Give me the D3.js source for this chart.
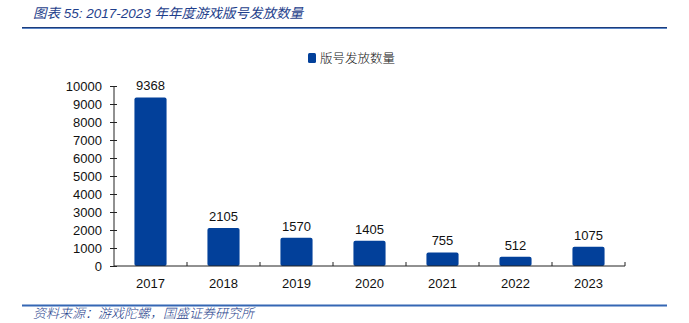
<!DOCTYPE html>
<html>
<head>
<meta charset="utf-8">
<script src="https://cdn.jsdelivr.net/npm/d3@7"></script>
<style>
  html, body { margin: 0; padding: 0; background: #fff; }
  svg { display: block; }
</style>
</head>
<body>
<svg id="chart" width="689" height="323"></svg>
<script>
// Annual count of approved game licences, 2017-2023
const years = ["2017", "2018", "2019", "2020", "2021", "2022", "2023"];
const licences = [9368, 2105, 1570, 1405, 755, 512, 1075];
const yTicks = [0, 1000, 2000, 3000, 4000, 5000, 6000, 7000, 8000, 9000, 10000];
const seriesName = "版号发放数量";
const titleText = "图表 55:  2017-2023 年年度游戏版号发放数量";
const sourceText = "资料来源：游戏陀螺，国盛证券研究所";

const svg = d3.select("#chart");
const barColor = "#02409A";
const textFont = "'Liberation Sans', Arial, 'Noto Sans CJK SC', sans-serif";

// Header and footer
svg.append("text")
  .attr("x", 33).attr("y", 18)
  .attr("fill", "#1F3F8C")
  .style("font-family", textFont)
  .style("font-size", "13.5px")
  .style("font-style", "italic")
  .style("font-weight", "400")
  .text(titleText);

svg.append("line")
  .attr("x1", 22).attr("x2", 667).attr("y1", 27.5).attr("y2", 27.5)
  .attr("stroke", "#1D3C7A").attr("stroke-width", 1);
svg.append("line")
  .attr("x1", 22).attr("x2", 667).attr("y1", 28.5).attr("y2", 28.5)
  .attr("stroke", "#5A86C8").attr("stroke-width", 1);

svg.append("line")
  .attr("x1", 22).attr("x2", 667).attr("y1", 305.5).attr("y2", 305.5)
  .attr("stroke", "#3567B4").attr("stroke-width", 2);

svg.append("text")
  .attr("x", 33).attr("y", 318)
  .attr("fill", "#1F3F8C")
  .style("font-family", textFont)
  .style("font-size", "13px")
  .style("font-style", "italic")
  .style("font-weight", "300")
  .text(sourceText);

// Plot area
const x = d3.scaleBand().domain(years).range([114, 625]).paddingInner(0.56).paddingOuter(0.28);
const y = d3.scaleLinear().domain([0, 10000]).range([266, 86]);

// Bars
svg.append("g").selectAll("rect")
  .data(licences)
  .join("rect")
  .attr("x", (d, i) => x(years[i]))
  .attr("y", d => y(d))
  .attr("width", x.bandwidth())
  .attr("height", d => y(0) - y(d))
  .attr("rx", 2)
  .attr("fill", barColor);

// Value labels
svg.append("g").selectAll("text")
  .data(licences)
  .join("text")
  .attr("x", (d, i) => x(years[i]) + x.bandwidth() / 2)
  .attr("y", d => y(d) - 7)
  .attr("text-anchor", "middle")
  .attr("fill", "#111")
  .style("font-family", textFont)
  .style("font-size", "13px")
  .text(d => d);

// Y axis
const yAxis = svg.append("g")
  .attr("transform", "translate(114,0)")
  .call(d3.axisLeft(y).tickValues(yTicks).tickSize(4).tickPadding(8).tickFormat(d3.format("d")));
yAxis.select(".domain").attr("stroke", "#222").attr("d", `M0,${y(10000)}V${y(0)}`);
yAxis.selectAll(".tick line").attr("stroke", "#222").attr("x1", 3);
yAxis.selectAll(".tick text")
  .attr("fill", "#111")
  .style("font-family", textFont)
  .style("font-size", "13px");

// X axis: category boundary ticks point up into the plot
const boundaries = d3.range(years.length + 1).map(i => 114 + i * x.step());
const xAxis = svg.append("g");
xAxis.append("line")
  .attr("x1", 114).attr("x2", 625).attr("y1", y(0)).attr("y2", y(0))
  .attr("stroke", "#222");
xAxis.selectAll("line.tk")
  .data(boundaries.slice(1))
  .join("line")
  .attr("class", "tk")
  .attr("x1", d => d).attr("x2", d => d)
  .attr("y1", y(0)).attr("y2", y(0) - 4)
  .attr("stroke", "#222");
xAxis.selectAll("text")
  .data(years)
  .join("text")
  .attr("x", d => x(d) + x.bandwidth() / 2)
  .attr("y", 288)
  .attr("text-anchor", "middle")
  .attr("fill", "#111")
  .style("font-family", textFont)
  .style("font-size", "13px")
  .text(d => d);

// Legend
const legend = svg.append("g").attr("transform", "translate(308,53)");
legend.append("rect")
  .attr("width", 8).attr("height", 10).attr("rx", 1.5)
  .attr("fill", barColor);
legend.append("text")
  .attr("x", 12).attr("y", 9.5)
  .attr("fill", "#111")
  .style("font-family", "'Noto Sans CJK SC', sans-serif")
  .style("font-size", "12.5px")
  .style("font-weight", "300")
  .text(seriesName);
</script>
</body>
</html>
